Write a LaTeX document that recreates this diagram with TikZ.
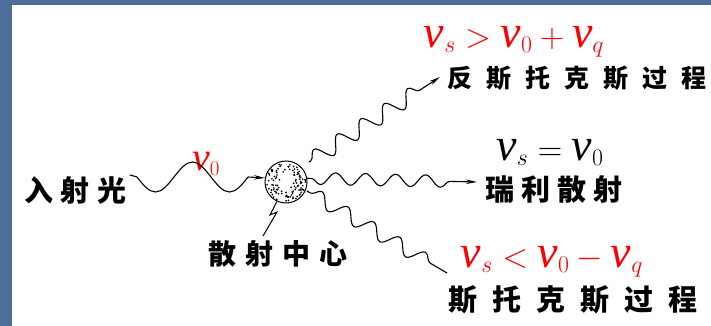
\RequirePackage{fix-cm}
\documentclass[tikz,border=0pt]{standalone}
\usepackage{amsmath}
\usepackage{fontspec}
\newfontfamily\cjk{Noto Sans CJK SC}
\newfontfamily\tms{Liberation Serif}
\newcommand\tv[1][46]{\text{\tms\itshape\fontsize{#1pt}{#1pt}\selectfont ν}}
\usetikzlibrary{arrows.meta,decorations.pathmorphing}
\definecolor{frameblue}{HTML}{4C6E99}
\tikzset{
  photon/.style={line width=1.1pt, line cap=round, line join=round},
  wavy/.style={photon, decorate, decoration={snake,#1}},
  tip/.style={-{Stealth[length=11pt,width=4.5pt]}},
  cn/.style={inner sep=0pt, font={\cjk\bfseries\fontsize{#1pt}{#1pt}\selectfont}},
  eq/.style={inner sep=0pt, font={\fontsize{34pt}{40pt}\selectfont}},
}
\begin{document}
\begin{tikzpicture}[x=1pt,y=-1pt]
\useasboundingbox (0,0) rectangle (711,326);
% slide frame
\fill[frameblue] (0,0) rectangle (711,326);
\fill[white] (12,5) rectangle (711,326);

% scattering centre with stippled interior
\node[circle, draw, line width=1pt, minimum size=42pt, inner sep=0pt] (sc) at (286,182) {};
\begin{scope}[shift={(286,182)}]
  \pgfmathsetseed{42}
  \foreach \i in {1,...,110}{
    \pgfmathsetmacro\ang{rnd*360}
    \pgfmathsetmacro\rad{5+14.5*sqrt(rnd)}
    \fill (\ang:\rad) circle (0.95pt);
  }
\end{scope}

% labels
\node[cn=29] (inc) at (75.5,190) {入\hspace{8pt}射\hspace{8pt}光};
\node[cn=28] (ctr) at (278,254) {散\hspace{9pt}射\hspace{9pt}中\hspace{9pt}心};
\node[cn=25, anchor=west] (anti) at (447,78) {反\hspace{14pt}斯\hspace{14pt}托\hspace{14pt}克\hspace{14pt}斯\hspace{14pt}过\hspace{14pt}程};
\node[cn=29, anchor=west] (ray) at (485,190) {瑞\hspace{7pt}利\hspace{7pt}散\hspace{7pt}射};
\node[cn=29, anchor=west] (stk) at (448,300) {斯\hspace{15pt}托\hspace{15pt}克\hspace{15pt}斯\hspace{15pt}过\hspace{15pt}程};

\node[inner sep=0pt, font={\fontsize{30pt}{34pt}\selectfont}, text=red] (nu0) at (206,164) {$\tv[40]_0$};
\node[eq, text=red] (eqa) at (514,42) {$\tv_s>\tv_0+\tv_q$};
\node[eq] (eqr) at (550,152) {$\tv_s=\tv_0$};
\node[eq, text=red] (eqs) at (552,262) {$\tv_s<\tv_0-\tv_q$};

% incident photon
\coordinate (src) at (130,175);
\draw[photon, tip] (src) -- ++(7,2)
  sin ++(18.5,15) cos ++(18.5,-15) sin ++(18.5,-15)
  cos ++(18.5,15) sin ++(18.5,15) cos ++(18.5,-15) -- (sc.169);

% scattered photons
\coordinate (u0) at (309,162);
\coordinate (u1) at (440,77);
\coordinate (l0) at (307,191);
\coordinate (l1) at (447,273);
\coordinate (r1) at (477,182);
\draw[wavy={segment length=28pt, amplitude=8pt, pre length=2pt, post length=14pt}, tip] (u0) -- (u1);
\draw[wavy={segment length=30pt, amplitude=6pt, pre length=4pt, post length=15pt, mirror}, tip] (sc.10) -- (r1);
\draw[wavy={segment length=30pt, amplitude=7pt, pre length=4pt, post length=8pt}] (l0) -- (l1);

% pointer to the scattering centre
\coordinate (z1) at (270,215);
\coordinate (z2) at (277,212);
\coordinate (z3) at (263,236);
\draw[line width=1pt, line join=miter] (sc.-115) -- (z1) -- (z2) -- (z3);
\end{tikzpicture}
\end{document}
